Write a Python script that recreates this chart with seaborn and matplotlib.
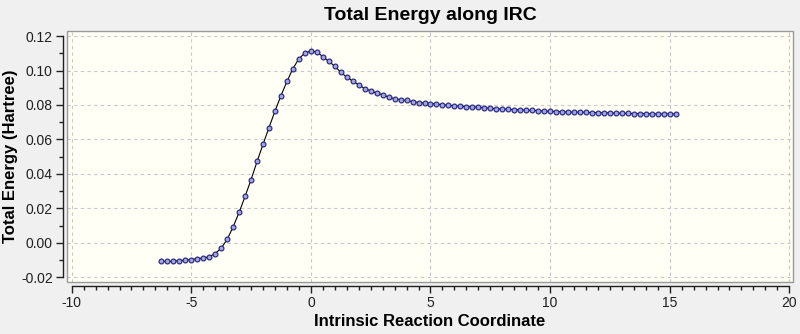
import numpy as np
import pandas as pd
import matplotlib
matplotlib.use("Agg")
import matplotlib.pyplot as plt
from matplotlib.patches import Rectangle
from matplotlib.ticker import MultipleLocator, FormatStrFormatter
import seaborn as sns

# IRC step index (TS at step 0) and step length along the reaction coordinate
step_index = list(range(-25, 62))
step_size = 0.25

# Total energy (Hartree) at each IRC point, reactant side then product side
energy_reactant = [
    -0.0108, -0.0108, -0.0106, -0.0103, -0.0101, -0.0097, -0.0092, -0.0088,
    -0.0081, -0.0062, -0.0031, 0.0020, 0.0093, 0.0177, 0.0270, 0.0367,
    0.0472, 0.0572, 0.0669, 0.0765, 0.0854, 0.0937, 0.1011, 0.1069, 0.1101,
]
energy_ts = [0.1113]
energy_product = [
    0.1107, 0.1081, 0.1053, 0.1025, 0.0989, 0.0962, 0.0939, 0.0917, 0.0895,
    0.0883, 0.0869, 0.0860, 0.0845, 0.0836, 0.0831, 0.0826, 0.0820, 0.0814,
    0.0810, 0.0808, 0.0805, 0.0802, 0.0798, 0.0795, 0.0793, 0.0791, 0.0788,
    0.0786, 0.0784, 0.0781, 0.0778, 0.0776, 0.0774, 0.0773, 0.0771, 0.0769,
    0.0768, 0.0767, 0.0764, 0.0763, 0.0762, 0.0761, 0.0759, 0.0758, 0.0758,
    0.0757, 0.0756, 0.0755, 0.0754, 0.0754, 0.0752, 0.0752, 0.0751, 0.0750,
    0.0750, 0.0750, 0.0749, 0.0748, 0.0748, 0.0748, 0.0748,
]

title = "Total Energy along IRC"
x_label = "Intrinsic Reaction Coordinate"
y_label = "Total Energy (Hartree)"

df = pd.DataFrame({
    "irc": np.array(step_index) * step_size,
    "energy": energy_reactant + energy_ts + energy_product,
})

sns.set_theme(style="white")
plt.rcParams["font.family"] = ["Liberation Sans", "DejaVu Sans"]
plt.rcParams["axes.unicode_minus"] = False

fig = plt.figure(figsize=(8.0, 3.34), dpi=100, facecolor="#f0f0f0")
ax = fig.add_axes([0.08375, 0.1566, 0.9075, 0.7515])
ax.set_facecolor("#fffff6")

sns.lineplot(
    data=df, x="irc", y="energy", ax=ax, color="black", linewidth=0.8,
    marker="o", markersize=3.5, markerfacecolor="#a4a4e4",
    markeredgecolor="#20207a", markeredgewidth=0.8,
)

ax.set_xlim(-10.196, 20.155)
ax.set_ylim(-0.02255, 0.1231)

ax.xaxis.set_major_locator(MultipleLocator(5))
ax.xaxis.set_minor_locator(MultipleLocator(0.5))
ax.yaxis.set_major_locator(MultipleLocator(0.02))
ax.yaxis.set_minor_locator(MultipleLocator(0.01))
ax.yaxis.set_major_formatter(FormatStrFormatter("%.2f"))
ax.xaxis.set_major_formatter(FormatStrFormatter("%d"))

ax.grid(True, which="major", color="#c8c8c8", linestyle=(0, (3, 3)), linewidth=0.8)

# Plot-area frame
for side in ("top", "right"):
    ax.spines[side].set_visible(False)
ax.add_patch(Rectangle((0, 0), 1, 1, transform=ax.transAxes, fill=False,
                       edgecolor="#9a9a9a", linewidth=1.0, zorder=5,
                       clip_on=False))

# Detached axis lines carrying the ticks
for side in ("left", "bottom"):
    ax.spines[side].set_position(("outward", 3.2))
    ax.spines[side].set_color("#202020")
    ax.spines[side].set_linewidth(1.0)
ax.spines["left"].set_bounds(-0.02, 0.12)
ax.spines["bottom"].set_bounds(-10, 20)

ax.tick_params(which="major", direction="out", length=5, width=1.0,
               color="#202020", labelsize=10, labelcolor="#202020",
               bottom=True, left=True, pad=2)
ax.tick_params(which="minor", direction="out", length=3, width=1.0,
               color="#202020", bottom=True, left=True)

ax.set_title(title, fontsize=14, fontweight="bold", pad=8, color="black")
ax.set_xlabel(x_label, fontsize=12, fontweight="bold", labelpad=3, color="black")
ax.set_ylabel(y_label, fontsize=12, fontweight="bold", labelpad=2, color="black")

fig.savefig("out.png", dpi=100, facecolor=fig.get_facecolor())
